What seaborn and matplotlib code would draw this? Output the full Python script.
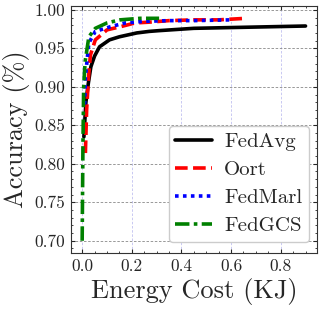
import numpy as np
import pandas as pd
import matplotlib
matplotlib.use("Agg")
import matplotlib.pyplot as plt
from matplotlib.ticker import AutoMinorLocator
import seaborn as sns

# Data
fedavg_x = [0.007, 0.015, 0.025, 0.035, 0.05, 0.07, 0.11, 0.15, 0.22, 0.27, 0.31, 0.45, 0.6, 0.75, 0.9]
fedavg_y = [0.835, 0.880, 0.905, 0.926, 0.940, 0.952, 0.961, 0.965, 0.970, 0.972, 0.973, 0.976, 0.977, 0.978, 0.979]

oort_x = [0.013, 0.018, 0.025, 0.033, 0.053, 0.1, 0.153, 0.213, 0.27, 0.35, 0.45, 0.55, 0.66]
oort_y = [0.814, 0.870, 0.910, 0.941, 0.961, 0.974, 0.978, 0.983, 0.984, 0.986, 0.987, 0.987, 0.989]

fedmarl_x = [0.01, 0.013, 0.02, 0.027, 0.053, 0.113, 0.173, 0.246, 0.35, 0.45, 0.6]
fedmarl_y = [0.877, 0.912, 0.935, 0.957, 0.972, 0.978, 0.983, 0.985, 0.986, 0.986, 0.987]

fedgcs_x = [0.0, 0.003, 0.006, 0.012, 0.027, 0.053, 0.1, 0.153, 0.233, 0.31]
fedgcs_y = [0.700, 0.820, 0.900, 0.933, 0.965, 0.976, 0.983, 0.987, 0.989, 0.989]

series_names = ["FedAvg", "Oort", "FedMarl", "FedGCS"]
series_colors = ["black", "red", "blue", "green"]
series_dashes = ["-", (0, (3.5, 1.5)), (0, (1, 1.2)), (0, (4, 1.2, 1, 1.2))]

sns.set_style("ticks")
plt.rcParams.update({
    "font.family": ["cmr10", "DejaVu Serif"],
    "mathtext.fontset": "cm",
    "axes.formatter.use_mathtext": True,
    "axes.unicode_minus": False,
    "xtick.direction": "in",
    "ytick.direction": "in",
    "xtick.top": True,
    "ytick.right": True,
    "xtick.minor.visible": True,
    "ytick.minor.visible": True,
    "xtick.major.size": 3,
    "ytick.major.size": 3,
    "xtick.minor.size": 1.5,
    "ytick.minor.size": 1.5,
    "axes.linewidth": 0.8,
    "axes.edgecolor": "#333333",
})

fig = plt.figure(figsize=(3.23, 3.09), dpi=100)
ax = fig.add_axes([71 / 323, 1 - 252.7 / 309, (316.7 - 71) / 323, (252.7 - 6) / 309])

xs = [fedavg_x, oort_x, fedmarl_x, fedgcs_x]
ys = [fedavg_y, oort_y, fedmarl_y, fedgcs_y]
frames = []
for name, x, y in zip(series_names, xs, ys):
    frames.append(pd.DataFrame({"x": x, "y": y, "method": name}))
df = pd.concat(frames, ignore_index=True)

for name, color, ls in zip(series_names, series_colors, series_dashes):
    sub = df[df["method"] == name]
    sns.lineplot(data=sub, x="x", y="y", ax=ax, color=color, linewidth=2.6,
                 linestyle=ls, label=name, sort=False, estimator=None)

ax.set_xlim(-0.045, 0.945)
ax.set_ylim(0.6845, 1.005)
ax.set_xticks([0.0, 0.2, 0.4, 0.6, 0.8])
ax.set_yticks([0.70, 0.75, 0.80, 0.85, 0.90, 0.95, 1.00])
ax.set_xticklabels(["0.0", "0.2", "0.4", "0.6", "0.8"])
ax.set_yticklabels(["0.70", "0.75", "0.80", "0.85", "0.90", "0.95", "1.00"])
ax.xaxis.set_minor_locator(AutoMinorLocator(4))
ax.yaxis.set_minor_locator(AutoMinorLocator(5))
ax.tick_params(labelsize=12.5, pad=4)

ax.yaxis.grid(True, linestyle=(0, (3, 2)), color="#888888", linewidth=0.6)
ax.xaxis.grid(True, linestyle=(0, (3, 2)), color="#c0c0f0", linewidth=0.6)

ax.set_xlabel("Energy Cost (KJ)", fontsize=19, labelpad=3)
ax.set_ylabel("Accuracy (%)", fontsize=19, labelpad=3)

leg = ax.legend(loc="lower right", bbox_to_anchor=(309 / 323, 1 - 241.7 / 309),
                bbox_transform=fig.transFigure, borderaxespad=0,
                fontsize=15, frameon=True, fancybox=True,
                handlelength=1.75, handletextpad=0.6, borderpad=0.32,
                labelspacing=0.45, framealpha=1.0, edgecolor="#cccccc")

fig.savefig("out.png", dpi=100)
